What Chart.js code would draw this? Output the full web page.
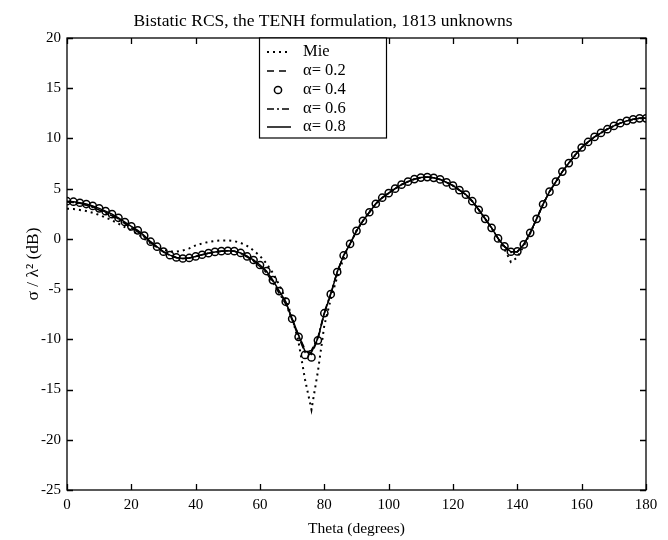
<!DOCTYPE html>
<html>
<head>
<meta charset="utf-8">
<title>Bistatic RCS</title>
<script src="https://cdn.jsdelivr.net/npm/chart.js@4"></script>
<style>
  html, body { margin: 0; padding: 0; background: #ffffff; }
  #myChart { display: block; }
</style>
</head>
<body>
<canvas id="myChart" width="668" height="540"></canvas>
<script>
// scattering angle (degrees)
const theta = [
  0, 2, 4, 6, 8, 10, 12, 14, 16, 18,
  20, 22, 24, 26, 28, 30, 32, 34, 36, 38,
  40, 42, 44, 46, 48, 50, 52, 54, 56, 58,
  60, 62, 64, 66, 68, 70, 72, 74, 76, 78,
  80, 82, 84, 86, 88, 90, 92, 94, 96, 98,
  100, 102, 104, 106, 108, 110, 112, 114, 116, 118,
  120, 122, 124, 126, 128, 130, 132, 134, 136, 138,
  140, 142, 144, 146, 148, 150, 152, 154, 156, 158,
  160, 162, 164, 166, 168, 170, 172, 174, 176, 178,
  180
];

// sigma / lambda^2 in dB
const mie = [
  3.00, 2.97, 2.88, 2.77, 2.60, 2.39, 2.13, 1.85, 1.52, 1.16,
  0.85, 0.48, 0.02, -0.45, -0.82, -1.10, -1.25, -1.27, -1.15, -0.95,
  -0.65, -0.45, -0.30, -0.20, -0.15, -0.15, -0.22, -0.40, -0.70, -1.15,
  -1.70, -2.45, -3.40, -4.60, -6.00, -7.80, -10.30, -14.00, -17.00, -13.20,
  -8.60, -6.00, -3.80, -1.90, -0.50, 0.80, 1.80, 2.65, 3.50, 4.10,
  4.55, 5.00, 5.40, 5.70, 5.95, 6.10, 6.15, 6.08, 5.92, 5.62,
  5.30, 4.85, 4.40, 3.75, 2.90, 2.00, 1.05, 0.00, -1.00, -2.30,
  -1.85, -0.70, 0.55, 2.00, 3.45, 4.70, 5.70, 6.70, 7.55, 8.35,
  9.10, 9.65, 10.15, 10.55, 10.92, 11.25, 11.52, 11.75, 11.90, 12.00,
  12.00
];

const alpha02 = [
  3.72, 3.66, 3.55, 3.40, 3.20, 2.95, 2.66, 2.36, 2.00, 1.58,
  1.17, 0.77, 0.25, -0.33, -0.82, -1.30, -1.64, -1.86, -1.95, -1.90,
  -1.75, -1.58, -1.42, -1.30, -1.22, -1.18, -1.22, -1.40, -1.72, -2.18,
  -2.65, -3.28, -4.20, -5.30, -6.35, -8.00, -9.60, -11.00, -11.50, -10.00,
  -7.40, -5.50, -3.30, -1.65, -0.50, 0.80, 1.80, 2.65, 3.50, 4.10,
  4.55, 5.00, 5.40, 5.70, 5.95, 6.10, 6.15, 6.08, 5.92, 5.62,
  5.30, 4.85, 4.40, 3.75, 2.90, 2.00, 1.10, 0.05, -0.75, -1.30,
  -1.27, -0.55, 0.60, 2.00, 3.45, 4.70, 5.70, 6.70, 7.55, 8.35,
  9.10, 9.65, 10.15, 10.55, 10.92, 11.25, 11.52, 11.75, 11.90, 12.00,
  12.00
];

const alpha04 = [
  3.75, 3.70, 3.60, 3.47, 3.28, 3.04, 2.76, 2.46, 2.10, 1.68,
  1.25, 0.85, 0.32, -0.28, -0.78, -1.27, -1.62, -1.85, -1.95, -1.90,
  -1.75, -1.58, -1.42, -1.30, -1.22, -1.18, -1.22, -1.40, -1.75, -2.10,
  -2.60, -3.20, -4.10, -5.20, -6.25, -7.95, -9.75, -11.55, -11.80, -10.10,
  -7.40, -5.50, -3.30, -1.65, -0.50, 0.80, 1.80, 2.65, 3.50, 4.10,
  4.55, 5.00, 5.40, 5.70, 5.95, 6.10, 6.15, 6.08, 5.92, 5.62,
  5.30, 4.85, 4.40, 3.75, 2.90, 2.00, 1.10, 0.05, -0.75, -1.28,
  -1.25, -0.55, 0.60, 2.00, 3.45, 4.70, 5.70, 6.70, 7.55, 8.35,
  9.10, 9.65, 10.15, 10.55, 10.92, 11.25, 11.52, 11.75, 11.90, 12.00,
  12.00
];

const alpha06 = [
  3.68, 3.62, 3.50, 3.35, 3.14, 2.88, 2.60, 2.30, 1.94, 1.52,
  1.10, 0.70, 0.20, -0.38, -0.86, -1.32, -1.66, -1.88, -1.96, -1.90,
  -1.75, -1.58, -1.42, -1.30, -1.22, -1.18, -1.24, -1.45, -1.80, -2.25,
  -2.75, -3.40, -4.35, -5.45, -6.50, -8.10, -9.80, -11.30, -11.10, -9.80,
  -7.30, -5.40, -3.30, -1.65, -0.50, 0.80, 1.80, 2.65, 3.50, 4.10,
  4.55, 5.00, 5.40, 5.70, 5.95, 6.10, 6.15, 6.08, 5.92, 5.62,
  5.30, 4.85, 4.40, 3.75, 2.90, 2.00, 1.10, 0.05, -0.78, -1.35,
  -1.30, -0.58, 0.60, 2.00, 3.45, 4.70, 5.70, 6.70, 7.55, 8.35,
  9.10, 9.65, 10.15, 10.55, 10.92, 11.25, 11.52, 11.75, 11.90, 12.00,
  12.00
];

const alpha08 = [
  3.75, 3.70, 3.60, 3.47, 3.28, 3.04, 2.76, 2.46, 2.10, 1.68,
  1.25, 0.85, 0.32, -0.28, -0.78, -1.27, -1.62, -1.85, -1.95, -1.90,
  -1.75, -1.58, -1.42, -1.30, -1.22, -1.18, -1.22, -1.40, -1.75, -2.10,
  -2.60, -3.20, -4.10, -5.20, -6.25, -7.95, -9.60, -11.20, -11.30, -9.90,
  -7.40, -5.50, -3.30, -1.65, -0.50, 0.80, 1.80, 2.65, 3.50, 4.10,
  4.55, 5.00, 5.40, 5.70, 5.95, 6.10, 6.15, 6.08, 5.92, 5.62,
  5.30, 4.85, 4.40, 3.75, 2.90, 2.00, 1.10, 0.05, -0.75, -1.28,
  -1.25, -0.55, 0.60, 2.00, 3.45, 4.70, 5.70, 6.70, 7.55, 8.35,
  9.10, 9.65, 10.15, 10.55, 10.92, 11.25, 11.52, 11.75, 11.90, 12.00,
  12.00
];

const xTicks = [0, 20, 40, 60, 80, 100, 120, 140, 160, 180];
const yTicks = [-25, -20, -15, -10, -5, 0, 5, 10, 15, 20];

const serif = "'Liberation Serif', 'Times New Roman', serif";

const toPoints = values => theta.map((t, i) => ({ x: t, y: values[i] }));

// box round the plot with inward ticks on all four sides, plus the legend box
const frameAndLegend = {
  id: 'frameAndLegend',
  afterDraw(chart) {
    const { ctx, chartArea: a, scales } = chart;
    ctx.save();
    ctx.strokeStyle = '#000';
    ctx.lineWidth = 1.3;
    ctx.strokeRect(a.left, a.top, a.right - a.left, a.bottom - a.top);

    const len = 6;
    ctx.beginPath();
    xTicks.forEach(v => {
      const px = Math.round(scales.x.getPixelForValue(v)) + 0.5;
      ctx.moveTo(px, a.bottom); ctx.lineTo(px, a.bottom - len);
      ctx.moveTo(px, a.top); ctx.lineTo(px, a.top + len);
    });
    yTicks.forEach(v => {
      const py = Math.round(scales.y.getPixelForValue(v)) + 0.5;
      ctx.moveTo(a.left, py); ctx.lineTo(a.left + len, py);
      ctx.moveTo(a.right, py); ctx.lineTo(a.right - len, py);
    });
    ctx.stroke();

    // legend
    const box = { left: 259, top: a.top, right: 386, bottom: 138 };
    ctx.fillStyle = '#fff';
    ctx.fillRect(box.left, box.top, box.right - box.left, box.bottom - box.top);
    ctx.lineWidth = 1.2;
    ctx.strokeRect(box.left + 0.5, box.top, box.right - box.left, box.bottom - box.top);

    const rowY = [52, 71, 90, 109, 127];
    chart.data.datasets.forEach((ds, i) => {
      const y = rowY[i];
      ctx.strokeStyle = '#000';
      if (ds.showLine === false) {
        ctx.lineWidth = ds.pointBorderWidth;
        ctx.beginPath();
        ctx.arc(278, y, ds.pointRadius, 0, Math.PI * 2);
        ctx.stroke();
      } else {
        ctx.lineWidth = ds.borderWidth;
        ctx.setLineDash(ds.borderDash || []);
        ctx.beginPath();
        ctx.moveTo(267, y);
        ctx.lineTo(291, y);
        ctx.stroke();
        ctx.setLineDash([]);
      }
      ctx.fillStyle = '#000';
      ctx.font = '16.5px ' + serif;
      ctx.textBaseline = 'middle';
      ctx.textAlign = 'left';
      ctx.fillText(ds.label, 303, y);
    });
    ctx.restore();
  }
};

const ctx = document.getElementById('myChart').getContext('2d');
new Chart(ctx, {
  type: 'line',
  data: {
    datasets: [
      {
        label: 'Mie',
        data: toPoints(mie),
        borderColor: '#000',
        borderWidth: 2,
        borderDash: [2, 4],
        pointRadius: 0,
        tension: 0
      },
      {
        label: 'α= 0.2',
        data: toPoints(alpha02),
        borderColor: '#000',
        borderWidth: 1.5,
        borderDash: [7, 5],
        pointRadius: 0,
        tension: 0
      },
      {
        label: 'α= 0.4',
        data: toPoints(alpha04),
        showLine: false,
        borderColor: '#000',
        pointStyle: 'circle',
        pointRadius: 3.6,
        pointBorderWidth: 1.5,
        pointBorderColor: '#000',
        pointBackgroundColor: 'rgba(0,0,0,0)'
      },
      {
        label: 'α= 0.6',
        data: toPoints(alpha06),
        borderColor: '#000',
        borderWidth: 1.5,
        borderDash: [7, 3, 2, 3],
        pointRadius: 0,
        tension: 0
      },
      {
        label: 'α= 0.8',
        data: toPoints(alpha08),
        borderColor: '#000',
        borderWidth: 1.5,
        pointRadius: 0,
        tension: 0
      }
    ]
  },
  options: {
    responsive: false,
    animation: false,
    layout: { padding: { left: 0, right: 22, top: 0, bottom: 0 } },
    scales: {
      x: {
        type: 'linear',
        min: 0,
        max: 180,
        afterBuildTicks: scale => { scale.ticks = xTicks.map(v => ({ value: v })); },
        afterFit: scale => { scale.height = 50; },
        grid: { display: false, drawTicks: false },
        border: { display: false },
        ticks: { color: '#000', padding: 6, maxRotation: 0, font: { family: serif, size: 15 } },
        title: {
          display: true,
          text: 'Theta (degrees)',
          color: '#000',
          padding: { top: 0, bottom: 2 },
          font: { family: serif, size: 15.5 }
        }
      },
      y: {
        min: -25,
        max: 20,
        afterBuildTicks: scale => { scale.ticks = yTicks.map(v => ({ value: v })); },
        afterFit: scale => { scale.width = 67; },
        grid: { display: false, drawTicks: false },
        border: { display: false },
        ticks: { color: '#000', padding: 6, font: { family: serif, size: 15 } },
        title: {
          display: true,
          text: 'σ / λ² (dB)',
          color: '#000',
          padding: { top: 23, bottom: 0 },
          font: { family: serif, size: 17.5 }
        }
      }
    },
    plugins: {
      legend: { display: false },
      tooltip: { enabled: false },
      title: {
        display: true,
        text: 'Bistatic RCS, the TENH formulation, 1813 unknowns',
        color: '#000',
        padding: { top: 11, bottom: 6 },
        font: { family: serif, size: 17.5, weight: 'normal' }
      }
    }
  },
  plugins: [frameAndLegend]
});
</script>
</body>
</html>
